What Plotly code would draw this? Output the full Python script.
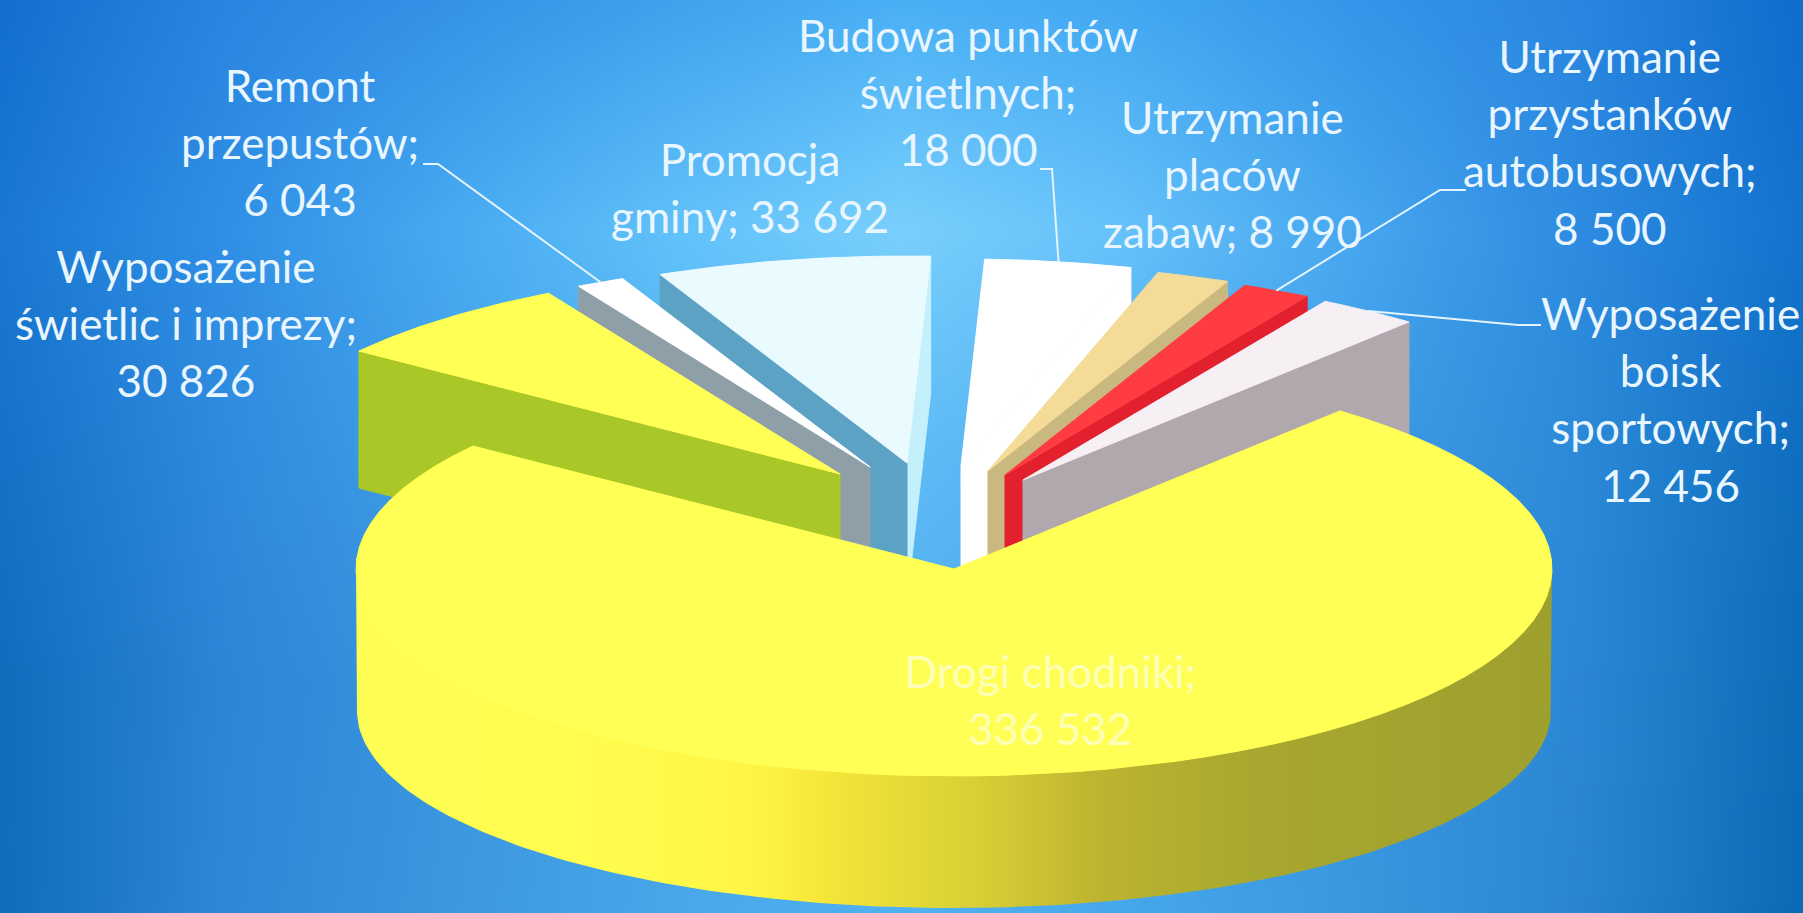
import base64, struct, zlib
import numpy as np
import plotly.graph_objects as go

# ---- data (counter-clockwise from the right edge of the big slice) ----
categories = ["Wyposażenie boisk sportowych", "Utrzymanie przystanków autobusowych",
              "Utrzymanie placów zabaw", "Budowa punktów świetlnych", "Promocja gminy",
              "Remont przepustów", "Wyposażenie świetlic i imprezy", "Drogi chodniki"]
values = [12456, 8500, 8990, 18000, 33692, 6043, 30826, 336532]
label_lines = [["Wyposażenie", "boisk", "sportowych;"],
               ["Utrzymanie", "przystanków", "autobusowych;"],
               ["Utrzymanie", "placów", "zabaw;"],
               ["Budowa punktów", "świetlnych;"],
               ["Promocja", "gminy;"],
               ["Remont", "przepustów;"],
               ["Wyposażenie", "świetlic i imprezy;"],
               ["Drogi chodniki;"]]
value_on_same_line = [False, False, True, False, True, False, False, False]

# ---- style and layout ----
W, H = 1803, 913
CX, CY, RX, RY = 954, 569, 598, 207
START = 49.8
DEPTH = 137
explode_dx = [69, 51, 34, 7, -47, -84, -114, 0]
explode_dy = [-89, -94, -98, -103, -106, -102, -95, 0]
top_colors = ["#F6EFF3", "#FF3C42", "#F4DB97", "#FFFFFF", "#E9FBFF", "#FFFFFF", "#FFFF55", "#FFFF55"]
wall_colors = ["#B1A8AD", "#E2202E", "#C9B981", "#FFFFFF", "#C4F0FC", "#8F9FA8", "#A9C828", None]
ccw_wall_colors = [None, None, None, None, "#5BA2C4", "#8F9FA8", "#A9C828", None]
draw_order = [4, 3, 2, 1, 0, 5, 6, 7]
label_xy = [(1670, 399), (1610, 142), (1232, 174), (968, 92), (750, 187), (300, 142), (186, 323), (1050, 699)]
leader_elbows = {0: [(1541, 325), (1518, 325)], 1: [(1466, 190), (1440, 190)],
                 3: [(1040, 169), (1052, 169)], 5: [(423, 164), (438, 164)]}
TEXT = "#E9F6FE"
FONT = "Lato"
FSIZE = 44

bg_rows = [
    ["#126FCE", "#2A85E0", "#3493E7", "#3FA3EE", "#4AB0F6", "#42A8F2", "#3496EA", "#2A86E0", "#0F6DCC"],
    ["#1A78D4", "#3090E6", "#48ABF2", "#62C2FA", "#7AD0FD", "#66C2FA", "#48A8F0", "#2E8CE2", "#1373CE"],
    ["#1672C8", "#2F8BDE", "#42A0E8", "#54B4F2", "#60BCF6", "#52B0F0", "#3E9CE6", "#2C8AD8", "#0F6EC0"],
    ["#0F6DBE", "#2E86D8", "#3A96E0", "#46A6EA", "#50B0F0", "#46A6EA", "#3896E0", "#2C88D6", "#0C6CB8"],
    ["#0F6EBC", "#3088D8", "#3C98E0", "#48A8EA", "#50B2F2", "#46A8EC", "#3A98E0", "#2A86D2", "#0A6AB6"],
]


def hex_rgb(c):
    return [int(c[i:i + 2], 16) for i in (1, 3, 5)]


def background_uri():
    grid = np.array([[hex_rgb(c) for c in row] for row in bg_rows], float)
    w, h = 451, 229
    xs = np.linspace(0, grid.shape[1] - 1, w)
    ys = np.linspace(0, grid.shape[0] - 1, h)
    x0 = np.minimum(xs.astype(int), grid.shape[1] - 2)
    y0 = np.minimum(ys.astype(int), grid.shape[0] - 2)
    fx = (xs - x0)[None, :, None]
    fy = (ys - y0)[:, None, None]
    a = grid[y0][:, x0]
    b = grid[y0][:, x0 + 1]
    c = grid[y0 + 1][:, x0]
    d = grid[y0 + 1][:, x0 + 1]
    img = ((a * (1 - fx) + b * fx) * (1 - fy) + (c * (1 - fx) + d * fx) * fy).astype(np.uint8)
    raw = b"".join(b"\x00" + img[i].tobytes() for i in range(h))

    def chunk(t, d):
        return struct.pack(">I", len(d)) + t + d + struct.pack(">I", zlib.crc32(t + d))

    png = (b"\x89PNG\r\n\x1a\n" + chunk(b"IHDR", struct.pack(">IIBBBBB", w, h, 8, 2, 0, 0, 0))
           + chunk(b"IDAT", zlib.compress(raw)) + chunk(b"IEND", b""))
    return "data:image/png;base64," + base64.b64encode(png).decode()


# ---- geometry derived from the values ----
total = sum(values)
sweeps = [v / total * 360 for v in values]
theta1 = [START + sum(sweeps[:i]) for i in range(len(values))]
theta2 = [t + s for t, s in zip(theta1, sweeps)]


def pt(i, deg, r=1.0, z=0.0):
    a = np.radians(deg)
    return (CX + explode_dx[i] + r * RX * np.cos(a), CY + explode_dy[i] - r * RY * np.sin(a) + z)


def poly(pts, name, color=None, grad=None):
    xs, ys = zip(*pts)
    if grad:
        kw = dict(fillgradient=grad)
        line = dict(width=0, color="rgba(0,0,0,0)")
    else:
        kw = dict(fillcolor=color)
        line = dict(width=1, color=color)
    return go.Scatter(x=list(xs) + [xs[0]], y=list(ys) + [ys[0]], mode="lines", fill="toself",
                      line=line, name=name, hoverinfo="name", showlegend=False, **kw)


def arc(i, a, b, n=80, z=0.0):
    return [pt(i, d, 1.0, z) for d in np.linspace(a, b, n)]


fig = go.Figure()
for i in draw_order:
    name = categories[i]
    apex = pt(i, 0, 0.0)
    if i != 7:
        if wall_colors[i] and np.cos(np.radians(theta1[i])) > 0:
            o = pt(i, theta1[i])
            fig.add_trace(poly([apex, o, (o[0], o[1] + DEPTH), (apex[0], apex[1] + DEPTH)], name, wall_colors[i]))
        if ccw_wall_colors[i]:
            o = pt(i, theta2[i])
            fig.add_trace(poly([apex, o, (o[0], o[1] + DEPTH), (apex[0], apex[1] + DEPTH)], name, ccw_wall_colors[i]))
    else:
        # the wall's upper edge runs slightly under the top face so no seam shows
        top = [pt(i, d, 1.0, -4) for d in np.linspace(180, 360, 160)]
        a = np.radians(np.linspace(360, 180, 160))
        bottom = list(zip(CX + 597 * np.cos(a), CY + 142 - 197 * np.sin(a)))
        fig.add_trace(poly(top + bottom, name, grad=dict(
            type="horizontal", start=356, stop=1552,
            colorscale=[[0, "#FFFE54"], [0.2, "#FFFC4E"], [0.33, "#FFF545"], [0.396, "#F5E53A"], [0.52, "#D8CF36"],
                        [0.62, "#BDB430"], [0.75, "#A8A830"], [1, "#9EA02E"]])))
    fig.add_trace(poly([apex] + arc(i, theta1[i], theta2[i]), name, top_colors[i]))

# leader lines
for i, elbow in leader_elbows.items():
    end = pt(i, (theta1[i] + theta2[i]) / 2)
    xs = [p[0] for p in elbow] + [end[0]]
    ys = [p[1] for p in elbow] + [end[1]]
    fig.add_trace(go.Scatter(x=xs, y=ys, mode="lines", line=dict(color="#E4F4FC", width=2),
                             hoverinfo="skip", showlegend=False))


def fmt(v):
    return f"{v:,}".replace(",", " ")


for i, (lx, ly) in enumerate(label_xy):
    lines = list(label_lines[i])
    if value_on_same_line[i]:
        lines[-1] += " " + fmt(values[i])
    else:
        lines.append(fmt(values[i]))
    fig.add_annotation(x=lx, y=ly, xref="x", yref="y", text="<br>".join(lines), showarrow=False,
                       xanchor="center", yanchor="middle", align="center",
                       font=dict(family=FONT, size=FSIZE, color=TEXT if i != 7 else "#FDFFB8"))

fig.update_layout(
    width=W, height=H, margin=dict(l=0, r=0, t=0, b=0), paper_bgcolor="#3596E0", plot_bgcolor="rgba(0,0,0,0)",
    showlegend=False,
    xaxis=dict(range=[0, W], visible=False, fixedrange=True),
    yaxis=dict(range=[H, 0], visible=False, fixedrange=True),
    images=[dict(source=background_uri(), xref="paper", yref="paper", x=0, y=1, sizex=1, sizey=1,
                 xanchor="left", yanchor="top", sizing="stretch", layer="below")],
)
fig.write_html("out.html", config=dict(displayModeBar=False),
               post_script="document.body.style.margin='0';document.documentElement.style.overflow='hidden';")
